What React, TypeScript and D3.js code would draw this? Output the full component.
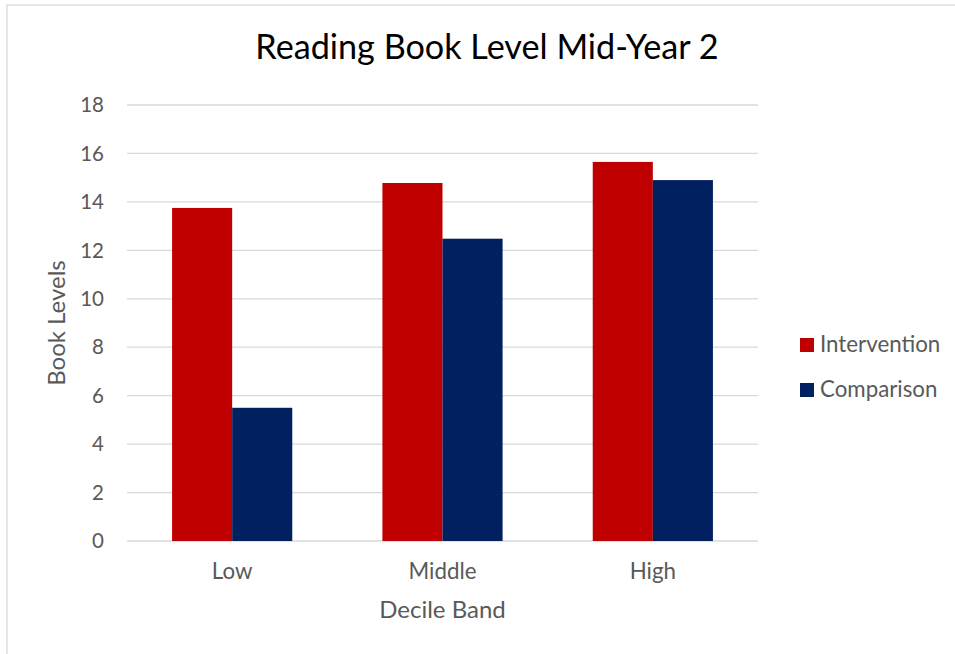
import React from "react";
import * as d3 from "d3";

// Decile bands on the x axis and the two groups compared in each band
const categories = ["Low", "Middle", "High"];
const seriesNames = ["Intervention", "Comparison"];
const intervention = [13.75, 14.78, 15.65];
const comparison = [5.5, 12.48, 14.9];
const yTicks = [0, 2, 4, 6, 8, 10, 12, 14, 16, 18];

const colors = ["#C00000", "#002060"];
const textColor = "#595959";
const gridColor = "#d9d9d9";
const font = "Lato, 'Open Sans', sans-serif";

const W = 955;
const H = 654;
const plot = { left: 127, right: 758, top: 105, bottom: 541 };

export default function App() {
  const x = d3
    .scaleBand<string>()
    .domain(categories)
    .range([plot.left, plot.right])
    .paddingInner(0)
    .paddingOuter(0);
  const inner = d3
    .scaleBand<string>()
    .domain(seriesNames)
    .range([0, x.bandwidth()])
    .paddingInner(0)
    .paddingOuter(0.75);
  const y = d3.scaleLinear().domain([0, 18]).range([plot.bottom, plot.top]);

  const values = [intervention, comparison];

  return (
    <svg
      width={W}
      height={H}
      style={{ position: "absolute", left: 0, top: 0, background: "#fff" }}
      fontFamily={font}
    >
      <rect x={0} y={0} width={W} height={H} fill="#fff" />
      {/* chart frame */}
      <rect x={7} y={5} width={W + 20} height={H + 20} fill="none" stroke={gridColor} strokeWidth={1.3} />

      <text x={487} y={59} textAnchor="middle" fontSize={34.2} fill="#000">
        Reading Book Level Mid-Year 2
      </text>

      {/* gridlines and y tick labels */}
      {yTicks.map((t) => (
        <g key={t}>
          <line x1={plot.left} x2={plot.right} y1={y(t)} y2={y(t)} stroke={gridColor} strokeWidth={1.3} />
          <text x={104} y={y(t)} dy="0.35em" textAnchor="end" fontSize={20.5} fill={textColor}>
            {t}
          </text>
        </g>
      ))}

      {/* bars */}
      {categories.map((c, i) => (
        <g key={c}>
          {seriesNames.map((s, j) => (
            <rect
              key={s}
              x={(x(c) as number) + (inner(s) as number)}
              y={y(values[j][i])}
              width={inner.bandwidth()}
              height={y(0) - y(values[j][i])}
              fill={colors[j]}
            />
          ))}
          <text
            x={(x(c) as number) + x.bandwidth() / 2}
            y={579}
            textAnchor="middle"
            fontSize={22.3}
            fill={textColor}
          >
            {c}
          </text>
        </g>
      ))}

      {/* axis titles */}
      <text x={(plot.left + plot.right) / 2} y={618} textAnchor="middle" fontSize={24} fill={textColor}>
        Decile Band
      </text>
      <text
        transform={`translate(65, ${(plot.top + plot.bottom) / 2}) rotate(-90)`}
        textAnchor="middle"
        fontSize={24}
        fill={textColor}
      >
        Book Levels
      </text>

      {/* legend */}
      {seriesNames.map((s, j) => (
        <g key={s} transform={`translate(800, ${338 + j * 45})`}>
          <rect x={0} y={0} width={14} height={14} fill={colors[j]} />
          <text x={20} y={14} fontSize={22.3} fill={textColor}>
            {s}
          </text>
        </g>
      ))}
    </svg>
  );
}
